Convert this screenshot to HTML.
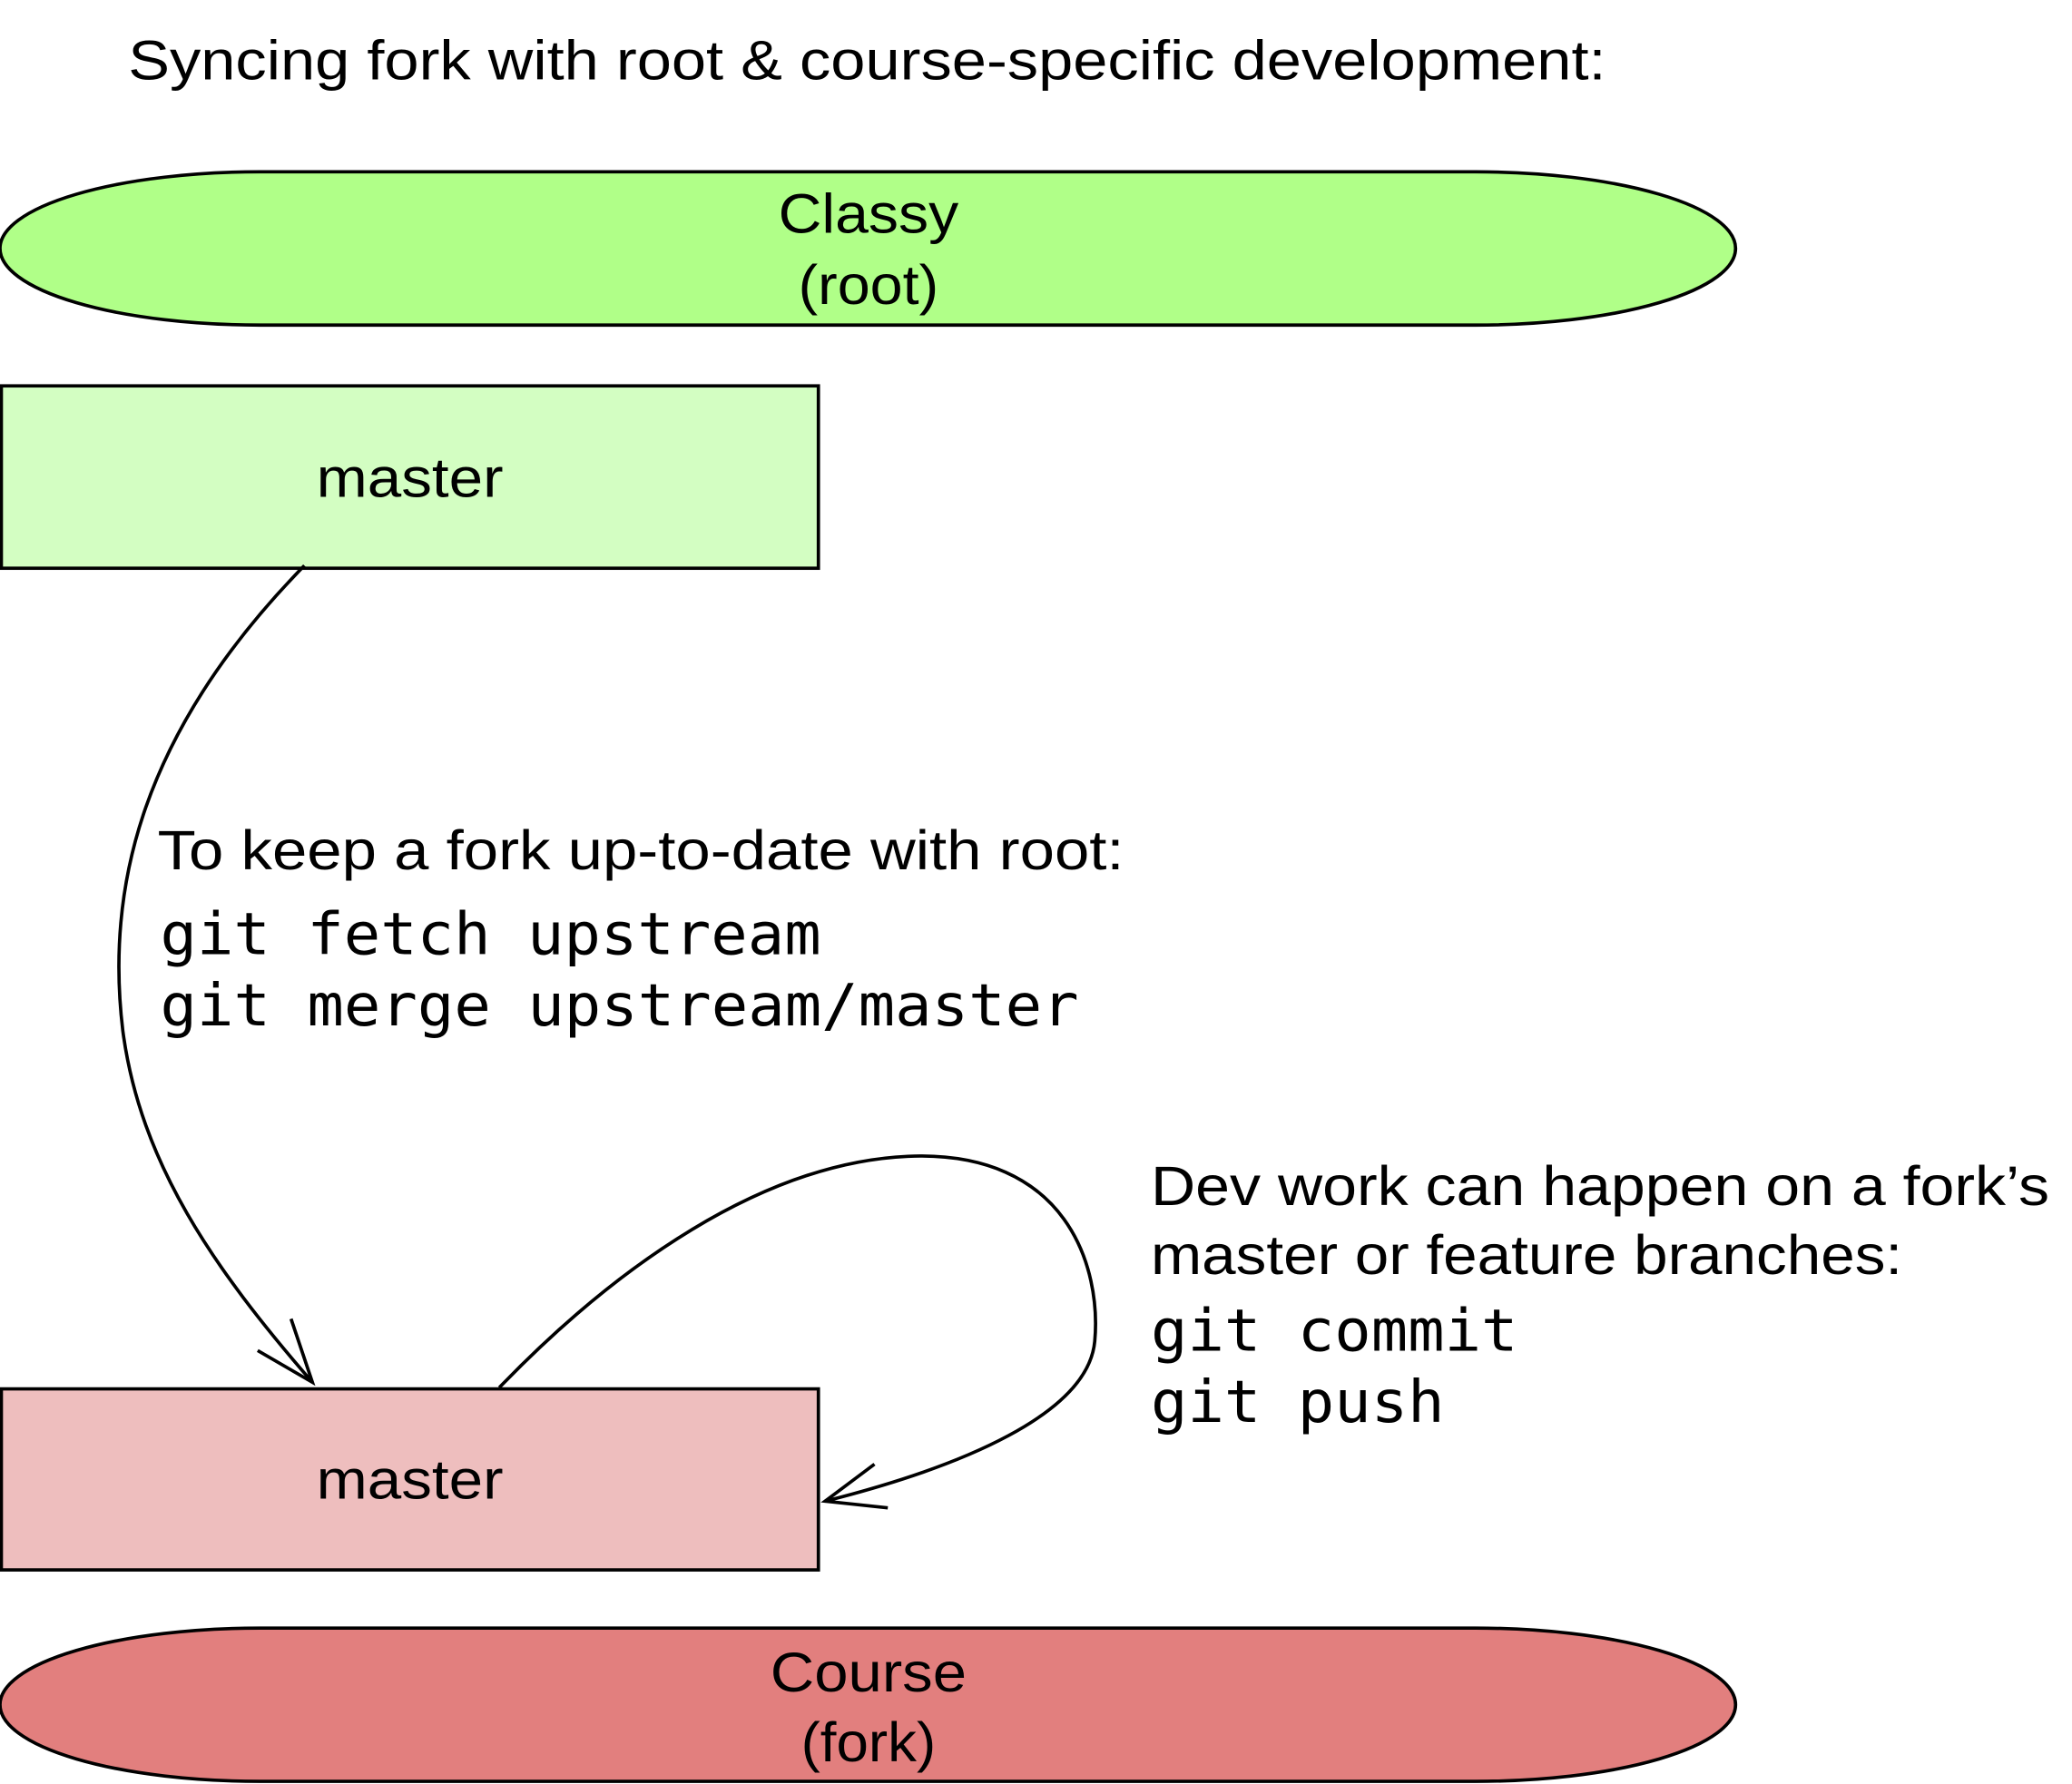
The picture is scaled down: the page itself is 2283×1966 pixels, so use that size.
<!DOCTYPE html>
<html><head><meta charset="utf-8"><style>
html,body{margin:0;padding:0;background:#fff;}
svg{display:block;}
.s{font-family:"Liberation Sans",sans-serif;font-size:42px;fill:#000;}
.m{font-family:"DejaVu Sans Mono","Liberation Mono",monospace;font-size:44px;fill:#000;}
</style></head><body>
<svg width="2283" height="1966" viewBox="0 0 1552 1350" preserveAspectRatio="none" xmlns="http://www.w3.org/2000/svg">
<text class="s" x="96" y="60" textLength="1107" lengthAdjust="spacingAndGlyphs">Syncing fork with root &amp; course-specific development:</text>
<path d="M195,130 H1105 A195,58 0 0 1 1105,246 H195 A195,58 0 0 1 195,130 Z" fill="#b0ff88" stroke="#000" stroke-width="2.5"/>
<text class="s" x="583" y="176" textLength="135" lengthAdjust="spacingAndGlyphs">Classy</text>
<text class="s" x="598" y="230" textLength="105" lengthAdjust="spacingAndGlyphs">(root)</text>
<rect x="1" y="292" width="612" height="138" fill="#d3fec2" stroke="#000" stroke-width="2.5"/>
<text class="s" x="237" y="376" textLength="140" lengthAdjust="spacingAndGlyphs">master</text>
<rect x="1" y="1051" width="612" height="137" fill="#eebebe" stroke="#000" stroke-width="2.5"/>
<text class="s" x="237" y="1134" textLength="140" lengthAdjust="spacingAndGlyphs">master</text>
<path d="M195,1232 H1105 A195,58 0 0 1 1105,1348 H195 A195,58 0 0 1 195,1232 Z" fill="#e27f7e" stroke="#000" stroke-width="2.5"/>
<text class="s" x="577" y="1280" textLength="147" lengthAdjust="spacingAndGlyphs">Course</text>
<text class="s" x="600" y="1333" textLength="101" lengthAdjust="spacingAndGlyphs">(fork)</text>
<path d="M228,428 C100,560 80,680 92,780 C105,880 160,960 234,1046" fill="none" stroke="#000" stroke-width="2.5"/>
<path d="M193,1022 L234,1046 L218,998" fill="none" stroke="#000" stroke-width="2.5"/>
<path d="M374,1050 C460,960 570,880 680,875 C800,870 825,960 820,1015 C815,1070 720,1110 618,1136" fill="none" stroke="#000" stroke-width="2.5"/>
<path d="M655,1108 L618,1136 L665,1141" fill="none" stroke="#000" stroke-width="2.5"/>
<text class="s" x="118" y="658" textLength="724" lengthAdjust="spacingAndGlyphs">To keep a fork up-to-date with root:</text>
<text class="m" x="120" y="722" textLength="495" lengthAdjust="spacingAndGlyphs">git fetch upstream</text>
<text class="m" x="120" y="776" textLength="688" lengthAdjust="spacingAndGlyphs">git merge upstream/master</text>
<text class="s" x="862" y="912" textLength="673" lengthAdjust="spacingAndGlyphs">Dev work can happen on a fork’s</text>
<text class="s" x="862" y="964" textLength="563" lengthAdjust="spacingAndGlyphs">master or feature branches:</text>
<text class="m" x="862" y="1022" textLength="275" lengthAdjust="spacingAndGlyphs">git commit</text>
<text class="m" x="862" y="1076" textLength="220" lengthAdjust="spacingAndGlyphs">git push</text>
</svg>
</body></html>
